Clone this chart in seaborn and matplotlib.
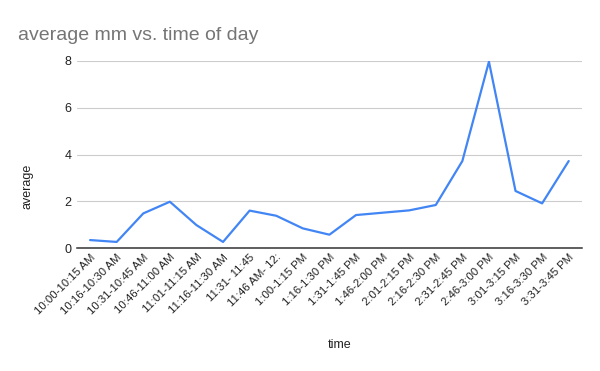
import numpy as np
import pandas as pd
import seaborn as sns
import matplotlib.pyplot as plt

# data
time_slots = [
    "10:00-10:15 AM", "10:16-10:30 AM", "10:31-10:45 AM", "10:46-11:00 AM",
    "11:01-11:15 AM", "11:16-11:30 AM", "11:31- 11:45", "11:46 AM- 12:",
    "1:00-1:15 PM", "1:16-1:30 PM", "1:31-1:45 PM", "1:46-2:00 PM",
    "2:01-2:15 PM", "2:16-2:30 PM", "2:31-2:45 PM", "2:46-3:00 PM",
    "3:01-3:15 PM", "3:16-3:30 PM", "3:31-3:45 PM",
]
average_mm = [0.34, 0.26, 1.48, 1.98, 0.98, 0.26, 1.6, 1.38, 0.84, 0.57,
              1.41, 1.51, 1.61, 1.84, 3.72, 7.97, 2.44, 1.91, 3.72]
y_ticks = [0, 2, 4, 6, 8]

df = pd.DataFrame({"time": time_slots, "average": average_mm})
df["pos"] = np.arange(len(df))

sns.set_style("white")
plt.rcParams['font.family'] = ['Liberation Sans', 'DejaVu Sans']

fig = plt.figure(figsize=(6, 3.71), dpi=100)
ax = fig.add_axes([0.128, 0.3315, 0.842, 0.5041])

sns.lineplot(data=df, x="pos", y="average", color="#4285F4", linewidth=1.6, ax=ax)

ax.set_xlim(-0.5, len(df) - 0.5)
ax.set_ylim(0, 8)
ax.set_yticks(y_ticks)
ax.set_yticklabels([str(t) for t in y_ticks], fontsize=9, color="#222222")
ax.set_xticks(df["pos"])
ax.set_xticklabels(df["time"], rotation=45, ha="right", rotation_mode="anchor",
                   fontsize=8.2, color="#222222")
ax.tick_params(axis="both", length=0, pad=4)
ax.tick_params(axis="x", pad=3)

ax.yaxis.grid(True, color="#cccccc", linewidth=0.8)
ax.set_axisbelow(True)
for side in ["left", "right", "top"]:
    ax.spines[side].set_visible(False)
ax.spines["bottom"].set_color("#333333")
ax.spines["bottom"].set_linewidth(1.1)
ax.spines["bottom"].set_zorder(3)

ax.set_xlabel("time", fontsize=9, color="#222222")
ax.xaxis.set_label_coords(0.52, -0.487)
ax.set_ylabel("average", fontsize=9, color="#222222")
ax.yaxis.set_label_coords(-0.085, 0.33)

fig.text(0.03, 0.892, "average mm vs. time of day", fontsize=14,
         color="#757575", va="baseline")

plt.savefig("out.png", dpi=100)
plt.close()
